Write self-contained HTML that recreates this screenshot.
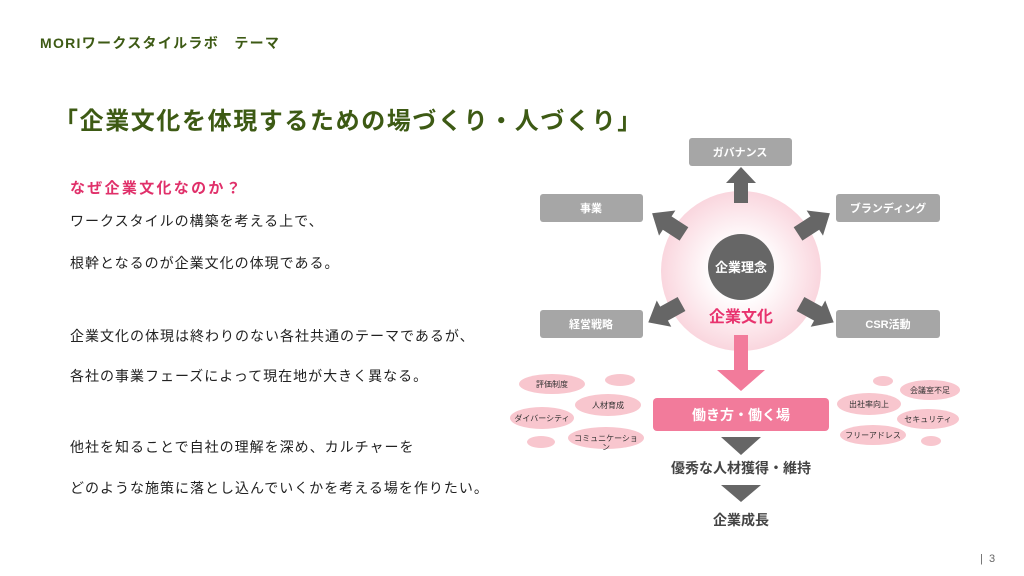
<!DOCTYPE html>
<html><head><meta charset="utf-8"><style>
body{margin:0;width:1024px;height:576px;background:#fff;overflow:hidden;position:relative;font-family:"Liberation Sans","Noto Sans CJK JP",sans-serif}
.t{position:absolute;white-space:nowrap}
.body{font-size:14px;letter-spacing:1px;color:#222;left:70px}
</style></head><body>
<div class="t" style="left:40px;top:33px;font-size:14px;font-weight:bold;color:#3d5a14;letter-spacing:1.3px">MORIワークスタイルラボ　テーマ</div>
<div class="t" style="left:54px;top:101px;font-size:24px;font-weight:bold;color:#3d5a14;letter-spacing:1.6px">「企業文化を体現するための場づくり・人づくり」</div>
<div class="t" style="left:70px;top:177px;font-size:15px;font-weight:bold;color:#e0306a;letter-spacing:2.3px">なぜ企業文化なのか？</div>
<div class="t body" style="top:211px">ワークスタイルの構築を考える上で、</div>
<div class="t body" style="top:253px">根幹となるのが企業文化の体現である。</div>
<div class="t body" style="top:326px">企業文化の体現は終わりのない各社共通のテーマであるが、</div>
<div class="t body" style="top:366px">各社の事業フェーズによって現在地が大きく異なる。</div>
<div class="t body" style="top:437px">他社を知ることで自社の理解を深め、カルチャーを</div>
<div class="t body" style="top:478px">どのような施策に落とし込んでいくかを考える場を作りたい。</div>
<div class="t" style="left:980px;top:553px;font-size:11px;color:#666">|&nbsp; 3</div>
<svg width="1024" height="576" style="position:absolute;left:0;top:0" font-family="Liberation Sans, Noto Sans CJK JP, sans-serif">
<defs><radialGradient id="g"><stop offset="0.35" stop-color="#fff"/><stop offset="1" stop-color="#fad6de"/></radialGradient></defs>
<circle cx="741" cy="271" r="80" fill="url(#g)"/>
<g>
<rect x="689" y="138" width="103" height="28" rx="3" fill="#a6a6a6"/>
<rect x="540" y="194" width="103" height="28" rx="3" fill="#a6a6a6"/>
<rect x="836" y="194" width="104" height="28" rx="3" fill="#a6a6a6"/>
<rect x="540" y="310" width="103" height="28" rx="3" fill="#a6a6a6"/>
<rect x="836" y="310" width="104" height="28" rx="3" fill="#a6a6a6"/>
</g>
<g fill="#fff" font-size="11" font-weight="bold" text-anchor="middle">
<text x="740" y="156">ガバナンス</text><text x="591" y="212">事業</text><text x="888" y="212">ブランディング</text>
<text x="591" y="328">経営戦略</text><text x="888" y="328">CSR活動</text></g>
<g fill="#666">
<polygon points="-7,-68 7,-68 7,-88 15,-88 0,-104 -15,-88 -7,-88" transform="translate(741,271)"/>
<polygon points="-8,-68 8,-68 8,-88 15,-88 0,-106 -15,-88 -8,-88" transform="translate(741,271) rotate(-57)"/>
<polygon points="-8,-68 8,-68 8,-88 15,-88 0,-106 -15,-88 -8,-88" transform="translate(741,271) rotate(57)"/>
<polygon points="-8,-68 8,-68 8,-88 15,-88 0,-106 -15,-88 -8,-88" transform="translate(741,271) rotate(-119)"/>
<polygon points="-8,-68 8,-68 8,-88 15,-88 0,-106 -15,-88 -8,-88" transform="translate(741,271) rotate(119)"/>
</g>
<circle cx="741" cy="267" r="33" fill="#666"/>
<text x="741" y="272" fill="#fff" font-size="13" font-weight="bold" text-anchor="middle">企業理念</text>
<text x="741" y="322" fill="#e8336e" font-size="16" font-weight="bold" text-anchor="middle">企業文化</text>
<polygon points="734,335 748,335 748,370 765,370 741,391 717,370 734,370" fill="#f27b9b"/>
<rect x="653" y="398" width="176" height="33" rx="4" fill="#f27b9b"/>
<text x="741" y="420" fill="#fff" font-size="14" font-weight="bold" text-anchor="middle">働き方・働く場</text>
<polygon points="721,437 761,437 741,455" fill="#666"/>
<polygon points="721,485 761,485 741,502" fill="#666"/>
<text x="741" y="473" fill="#444" font-size="14" font-weight="bold" text-anchor="middle">優秀な人材獲得・維持</text>
<text x="741" y="525" fill="#444" font-size="14" font-weight="bold" text-anchor="middle">企業成長</text>
<g fill="#f8c6ce">
<ellipse cx="552" cy="384" rx="33" ry="10"/><ellipse cx="620" cy="380" rx="15" ry="6"/>
<ellipse cx="608" cy="405" rx="33" ry="11"/><ellipse cx="542" cy="418" rx="32" ry="11"/>
<ellipse cx="606" cy="438" rx="38" ry="11"/><ellipse cx="541" cy="442" rx="14" ry="6"/>
<ellipse cx="883" cy="381" rx="10" ry="5"/><ellipse cx="930" cy="390" rx="30" ry="10"/>
<ellipse cx="869" cy="404" rx="32" ry="11"/><ellipse cx="928" cy="419" rx="31" ry="10"/>
<ellipse cx="873" cy="435" rx="33" ry="10"/><ellipse cx="931" cy="441" rx="10" ry="5"/>
</g>
<g fill="#333" font-size="8" text-anchor="middle">
<text x="552" y="387">評価制度</text><text x="608" y="408">人材育成</text><text x="542" y="421">ダイバーシティ</text>
<text x="606" y="441">コミュニケーショ</text><text x="606" y="450">ン</text>
<text x="930" y="393">会議室不足</text><text x="869" y="407">出社率向上</text><text x="928" y="422">セキュリティ</text><text x="873" y="438">フリーアドレス</text>
</g>
</svg>
</body></html>
